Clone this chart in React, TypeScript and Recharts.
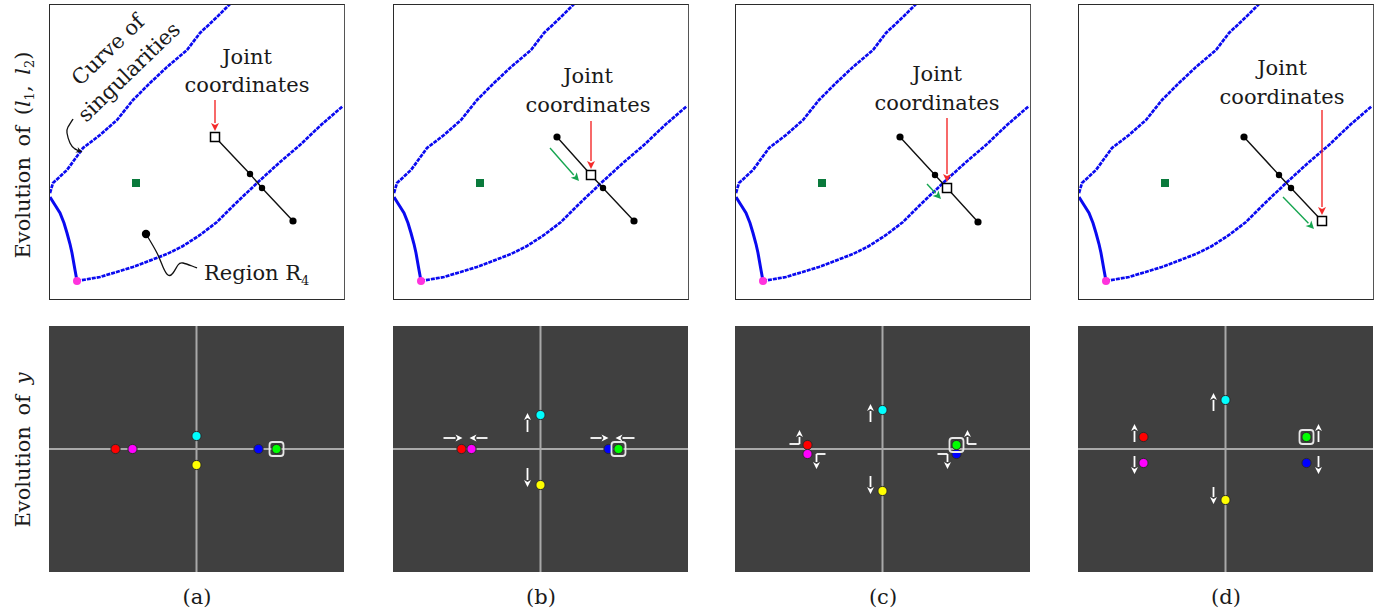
import React from 'react';
import { ComposedChart, Line, Scatter, XAxis, YAxis, ReferenceLine } from 'recharts';

type Pt = { x: number; y: number };
type Dot = { id: string; x: number; y: number };

// ---- top row: (l1, l2) plane, panel units (0..296), y measured downward ----
const upperBranch: Pt[] = [
  { x: 1, y: 189 }, { x: 4, y: 179 }, { x: 18, y: 166 }, { x: 34, y: 144 },
  { x: 51, y: 131 }, { x: 68, y: 116 }, { x: 84, y: 96 }, { x: 101, y: 79 },
  { x: 118, y: 63 }, { x: 138, y: 46 }, { x: 151, y: 29 }, { x: 168, y: 13 },
  { x: 181, y: 0 }
];
const cuspBranch: Pt[] = [
  { x: 1, y: 193 }, { x: 6, y: 201 }, { x: 11, y: 209 }, { x: 15, y: 219 },
  { x: 18, y: 229 }, { x: 21, y: 240 }, { x: 23, y: 249 }, { x: 26, y: 266 },
  { x: 28, y: 277 }
];
const lowerBranch: Pt[] = [
  { x: 28, y: 277 }, { x: 51, y: 273 }, { x: 84, y: 263 }, { x: 118, y: 250 },
  { x: 134, y: 242 }, { x: 151, y: 231 }, { x: 168, y: 218 }, { x: 185, y: 201 },
  { x: 207, y: 180 }, { x: 230, y: 159 }, { x: 251, y: 141 }, { x: 272, y: 121 },
  { x: 294, y: 102 }
];
const cuspPoint: Pt[] = [{ x: 28, y: 277 }];
const targetPoint: Pt[] = [{ x: 87, y: 179 }];
const regionPoint: Pt[] = [{ x: 97, y: 230 }];
const regionLeader: Pt[] = [
  { x: 97, y: 230 }, { x: 108, y: 249 }, { x: 114, y: 263 }, { x: 119, y: 271 },
  { x: 124, y: 269 }, { x: 129, y: 261 }, { x: 134, y: 259 }, { x: 143, y: 262 },
  { x: 148, y: 264 }
];
const curveLeader: Pt[] = [
  { x: 24, y: 115 }, { x: 19, y: 123 }, { x: 18, y: 129 }, { x: 21, y: 139 },
  { x: 26, y: 145 }, { x: 33, y: 148 }
];

const jointA: Pt[] = [{ x: 166, y: 133 }, { x: 201, y: 170 }, { x: 213, y: 184 }, { x: 244, y: 217 }];
const jointB: Pt[] = [{ x: 164, y: 133 }, { x: 198, y: 171 }, { x: 210, y: 184 }, { x: 241, y: 217 }];
const jointC: Pt[] = [{ x: 165, y: 133 }, { x: 200, y: 171 }, { x: 212, y: 184 }, { x: 243, y: 218 }];
const jointD: Pt[] = [{ x: 166, y: 133 }, { x: 201, y: 171 }, { x: 213, y: 184 }, { x: 244, y: 217 }];
const joints = [jointA, jointB, jointC, jointD];
const currentIndex = [0, 1, 2, 3];

const redArrows: Pt[][] = [
  [{ x: 166, y: 96 }, { x: 166, y: 127 }],
  [{ x: 198, y: 117 }, { x: 198, y: 165 }],
  [{ x: 212, y: 114 }, { x: 212, y: 178 }],
  [{ x: 244, y: 106 }, { x: 244, y: 211 }]
];
const greenArrows: Pt[][] = [
  [],
  [{ x: 157, y: 144 }, { x: 186, y: 177 }],
  [{ x: 192, y: 180 }, { x: 206, y: 195 }],
  [{ x: 205, y: 193 }, { x: 236, y: 225 }]
];

// ---- bottom row: y plane, centred units, y up ----
const dotsA: Dot[] = [
  { id: 'red', x: -81, y: 0 }, { id: 'magenta', x: -64, y: 0 }, { id: 'cyan', x: 0, y: 13 },
  { id: 'yellow', x: 0, y: -16 }, { id: 'blue', x: 62, y: 0 }, { id: 'green', x: 80, y: 0 }
];
const dotsB: Dot[] = [
  { id: 'red', x: -79, y: 0 }, { id: 'magenta', x: -69, y: 0 }, { id: 'cyan', x: 0, y: 34 },
  { id: 'yellow', x: 0, y: -36 }, { id: 'blue', x: 68, y: 0 }, { id: 'green', x: 78, y: 0 }
];
const dotsC: Dot[] = [
  { id: 'red', x: -75, y: 4 }, { id: 'magenta', x: -75, y: -5 }, { id: 'cyan', x: 0, y: 39 },
  { id: 'yellow', x: 0, y: -42 }, { id: 'blue', x: 74, y: -5 }, { id: 'green', x: 74, y: 4 }
];
const dotsD: Dot[] = [
  { id: 'red', x: -82, y: 12 }, { id: 'magenta', x: -82, y: -14 }, { id: 'cyan', x: 0, y: 49 },
  { id: 'yellow', x: 0, y: -51 }, { id: 'blue', x: 81, y: -14 }, { id: 'green', x: 81, y: 12 }
];
const dotSets = [dotsA, dotsB, dotsC, dotsD];

const movesB: Pt[][] = [
  [{ x: -97, y: 11 }, { x: -78, y: 11 }], [{ x: -53, y: 11 }, { x: -71, y: 11 }],
  [{ x: 50, y: 11 }, { x: 68, y: 11 }], [{ x: 94, y: 11 }, { x: 75, y: 11 }],
  [{ x: -13, y: 17 }, { x: -13, y: 36 }], [{ x: -13, y: -19 }, { x: -13, y: -38 }]
];
const movesC: Pt[][] = [
  [{ x: -12, y: 27 }, { x: -12, y: 45 }], [{ x: -12, y: -27 }, { x: -12, y: -45 }],
  [{ x: -93, y: 5 }, { x: -83, y: 5 }, { x: -83, y: 19 }],
  [{ x: -57, y: -5 }, { x: -66, y: -5 }, { x: -66, y: -20 }],
  [{ x: 94, y: 5 }, { x: 85, y: 5 }, { x: 85, y: 19 }],
  [{ x: 55, y: -5 }, { x: 65, y: -5 }, { x: 65, y: -20 }]
];
const movesD: Pt[][] = [
  [{ x: -91, y: 7 }, { x: -91, y: 25 }], [{ x: -91, y: -7 }, { x: -91, y: -25 }],
  [{ x: -12, y: 38 }, { x: -12, y: 56 }], [{ x: -12, y: -38 }, { x: -12, y: -55 }],
  [{ x: 93, y: 7 }, { x: 93, y: 25 }], [{ x: 93, y: -7 }, { x: 93, y: -25 }]
];
const moveSets = [[], movesB, movesC, movesD];

const panelLabels = ['(a)', '(b)', '(c)', '(d)'];

// ---- layout / style ----
const FONT = '"DejaVu Serif", serif';
const FS = 21;
const LEFTS = [49, 393, 735, 1078];
const TOP_Y = 4;
const TOP_SIZE = 296;
const BOT_Y = 326;
const BOT_W = 295;
const BOT_H = 246;
const BLUE = '#0a0af0';
const DOT_COLORS: Record<string, string> = {
  red: '#ff0000', magenta: '#ff00ff', cyan: '#00ffff',
  yellow: '#ffff00', blue: '#0000ff', green: '#00ff00'
};
const jointText = [
  { cx: 247, j: 64, c: 92 },
  { cx: 588, j: 83, c: 112 },
  { cx: 937, j: 81, c: 110 },
  { cx: 1282, j: 75, c: 104 }
];

function arrowShape(color: string, width: number, head: number) {
  return (p: any) => {
    const { x1, y1, x2, y2 } = p;
    const a = Math.atan2(y2 - y1, x2 - x1);
    const hx = x2 - head * Math.cos(a);
    const hy = y2 - head * Math.sin(a);
    const w = head * 0.5;
    const nx = -Math.sin(a) * w;
    const ny = Math.cos(a) * w;
    return (
      <g>
        <line x1={x1} y1={y1} x2={hx} y2={hy} stroke={color} strokeWidth={width} />
        <polygon
          points={`${x2},${y2} ${hx + nx},${hy + ny} ${hx + Math.cos(a) * 2},${hy + Math.sin(a) * 2} ${hx - nx},${hy - ny}`}
          fill={color}
        />
      </g>
    );
  };
}

function plainSegment(color: string, width: number) {
  return (p: any) => <line x1={p.x1} y1={p.y1} x2={p.x2} y2={p.y2} stroke={color} strokeWidth={width} />;
}

function renderArrow(pts: Pt[], key: string, color: string, width: number, head: number) {
  const out: React.ReactNode[] = [];
  for (let i = 0; i < pts.length - 1; i++) {
    const last = i === pts.length - 2;
    out.push(
      <ReferenceLine
        key={`${key}-${i}`}
        segment={[{ x: pts[i].x, y: pts[i].y }, { x: pts[i + 1].x, y: pts[i + 1].y }]}
        ifOverflow="visible"
        shape={last ? arrowShape(color, width, head) : plainSegment(color, width)}
      />
    );
  }
  return out;
}

function TopPanel({ i }: { i: number }) {
  const joint = joints[i];
  const cur = [joint[currentIndex[i]]];
  const others = joint.filter((_, k) => k !== currentIndex[i]);
  return (
    <div style={{ position: 'absolute', left: LEFTS[i], top: TOP_Y, width: TOP_SIZE, height: TOP_SIZE, background: '#fff' }}>
      <ComposedChart width={TOP_SIZE} height={TOP_SIZE} margin={{ top: 0, right: 0, bottom: 0, left: 0 }}>
        <XAxis type="number" dataKey="x" domain={[0, 296]} hide />
        <YAxis type="number" dataKey="y" domain={[0, 296]} reversed hide />
        <Line data={upperBranch} dataKey="y" type="linear" stroke={BLUE} strokeWidth={2.7} strokeDasharray="4 1" dot={false} isAnimationActive={false} />
        <Line data={lowerBranch} dataKey="y" type="linear" stroke={BLUE} strokeWidth={2.7} strokeDasharray="4 1" dot={false} isAnimationActive={false} />
        <Line data={cuspBranch} dataKey="y" type="linear" stroke={BLUE} strokeWidth={3} dot={false} isAnimationActive={false} />
        <Line data={joint} dataKey="y" type="linear" stroke="#111" strokeWidth={1.4} dot={false} isAnimationActive={false} />
        {i === 0 && (
          <Line data={regionLeader} dataKey="y" type="natural" stroke="#111" strokeWidth={1.3} dot={false} isAnimationActive={false} />
        )}
        {i === 0 && (
          <Line data={curveLeader} dataKey="y" type="natural" stroke="#111" strokeWidth={1.3} dot={false} isAnimationActive={false} />
        )}
        {i === 0 && renderArrow(curveLeader.slice(-2), 'cl', '#111', 1.3, 6)}
        {renderArrow(redArrows[i], 'red', '#f42a2a', 1.4, 8)}
        {greenArrows[i].length > 0 && renderArrow(greenArrows[i], 'grn', '#16a550', 1.4, 8)}
        <Scatter
          data={cuspPoint}
          dataKey="y"
          isAnimationActive={false}
          shape={(p: any) => <circle cx={p.cx} cy={p.cy} r={4} fill="#ff33dd" />}
        />
        <Scatter
          data={targetPoint}
          dataKey="y"
          isAnimationActive={false}
          shape={(p: any) => <rect x={p.cx - 4} y={p.cy - 4} width={8} height={8} fill="#0a7a3c" />}
        />
        {i === 0 && (
          <Scatter
            data={regionPoint}
            dataKey="y"
            isAnimationActive={false}
            shape={(p: any) => <circle cx={p.cx} cy={p.cy} r={4.2} fill="#000" />}
          />
        )}
        <Scatter
          data={others}
          dataKey="y"
          isAnimationActive={false}
          shape={(p: any) => {
            const big = p.payload === joint[0] || p.payload === joint[3];
            return <circle cx={p.cx} cy={p.cy} r={big ? 3.6 : 3.2} fill="#000" />;
          }}
        />
        <Scatter
          data={cur}
          dataKey="y"
          isAnimationActive={false}
          shape={(p: any) => (
            <rect x={p.cx - 4.5} y={p.cy - 4.5} width={9} height={9} fill="#fff" stroke="#000" strokeWidth={1.5} />
          )}
        />
      </ComposedChart>
      <div
        style={{
          position: 'absolute', left: 0, top: 0, width: TOP_SIZE, height: TOP_SIZE,
          border: '1.5px solid #2b2b2b', borderRightColor: '#555', boxSizing: 'border-box', pointerEvents: 'none'
        }}
      />
    </div>
  );
}

const hAxis: Pt[] = [{ x: -148, y: 0 }, { x: 148, y: 0 }];
const vAxis: Pt[] = [{ x: 0, y: -124 }, { x: 0, y: 124 }];

function BottomPanel({ i }: { i: number }) {
  const dots = dotSets[i];
  return (
    <div style={{ position: 'absolute', left: LEFTS[i], top: BOT_Y, width: BOT_W, height: BOT_H, background: '#404040' }}>
      <ComposedChart width={BOT_W} height={BOT_H} margin={{ top: 0, right: 0, bottom: 0, left: 0 }}>
        <XAxis type="number" dataKey="x" domain={[-147.5, 147.5]} hide allowDataOverflow />
        <YAxis type="number" dataKey="y" domain={[-123, 123]} hide allowDataOverflow />
        <Line data={hAxis} dataKey="y" stroke="#a9a9a9" strokeWidth={2} dot={false} isAnimationActive={false} />
        <Line data={vAxis} dataKey="y" stroke="#a9a9a9" strokeWidth={2} dot={false} isAnimationActive={false} />
        {moveSets[i].map((m, k) => renderArrow(m, `mv${k}`, '#ffffff', 1.8, 7))}
        <Scatter
          data={dots}
          dataKey="y"
          isAnimationActive={false}
          shape={(p: any) => {
            const id = p.payload.id;
            return (
              <g>
                {id === 'green' && (
                  <rect x={p.cx - 7} y={p.cy - 7} width={14} height={14} rx={3} fill="none" stroke="#e6e6e6" strokeWidth={1.8} />
                )}
                <circle cx={p.cx} cy={p.cy} r={4.6} fill={DOT_COLORS[id]} stroke="#2a2a2a" strokeWidth={1} />
              </g>
            );
          }}
        />
      </ComposedChart>
    </div>
  );
}

export default function App() {
  return (
    <div style={{ position: 'absolute', left: 0, top: 0, width: 1389, height: 615, background: '#fff', fontFamily: FONT }}>
      {[0, 1, 2, 3].map((i) => <TopPanel key={`t${i}`} i={i} />)}
      {[0, 1, 2, 3].map((i) => <BottomPanel key={`b${i}`} i={i} />)}
      <svg width={1389} height={615} style={{ position: 'absolute', left: 0, top: 0, pointerEvents: 'none' }}>
        <g fontFamily={FONT} fill="#1a1a1a">
          <text x={30} y={155} fontSize={FS} textAnchor="middle" transform="rotate(-90 30 155)" wordSpacing={4}>
            Evolution of (<tspan fontStyle="italic">l</tspan>
            <tspan fontSize={13} dy={4}>1</tspan>
            <tspan dy={-4}>, </tspan>
            <tspan fontStyle="italic">l</tspan>
            <tspan fontSize={13} dy={4}>2</tspan>
            <tspan dy={-4}>)</tspan>
          </text>
          <text x={30} y={450} fontSize={FS} textAnchor="middle" transform="rotate(-90 30 450)" wordSpacing={4}>
            Evolution of <tspan fontStyle="italic">y</tspan>
          </text>
          {panelLabels.map((t, i) => (
            <text key={t} x={LEFTS[i] + 148} y={604} fontSize={FS} textAnchor="middle">{t}</text>
          ))}
          {jointText.map((t, i) => (
            <g key={`jt${i}`}>
              <text x={t.cx} y={t.j} fontSize={FS} textAnchor="middle">Joint</text>
              <text x={t.cx} y={t.c} fontSize={FS} textAnchor="middle">coordinates</text>
            </g>
          ))}
          <text x={204} y={280} fontSize={FS}>
            Region R<tspan fontSize={13} dy={5}>4</tspan>
          </text>
          <text x={108} y={50} fontSize={FS} textAnchor="middle" dominantBaseline="central" transform="rotate(-44 108 50)">
            Curve of
          </text>
          <text x={129} y={72} fontSize={FS} textAnchor="middle" dominantBaseline="central" transform="rotate(-44 129 72)">
            singularities
          </text>
        </g>
      </svg>
    </div>
  );
}
